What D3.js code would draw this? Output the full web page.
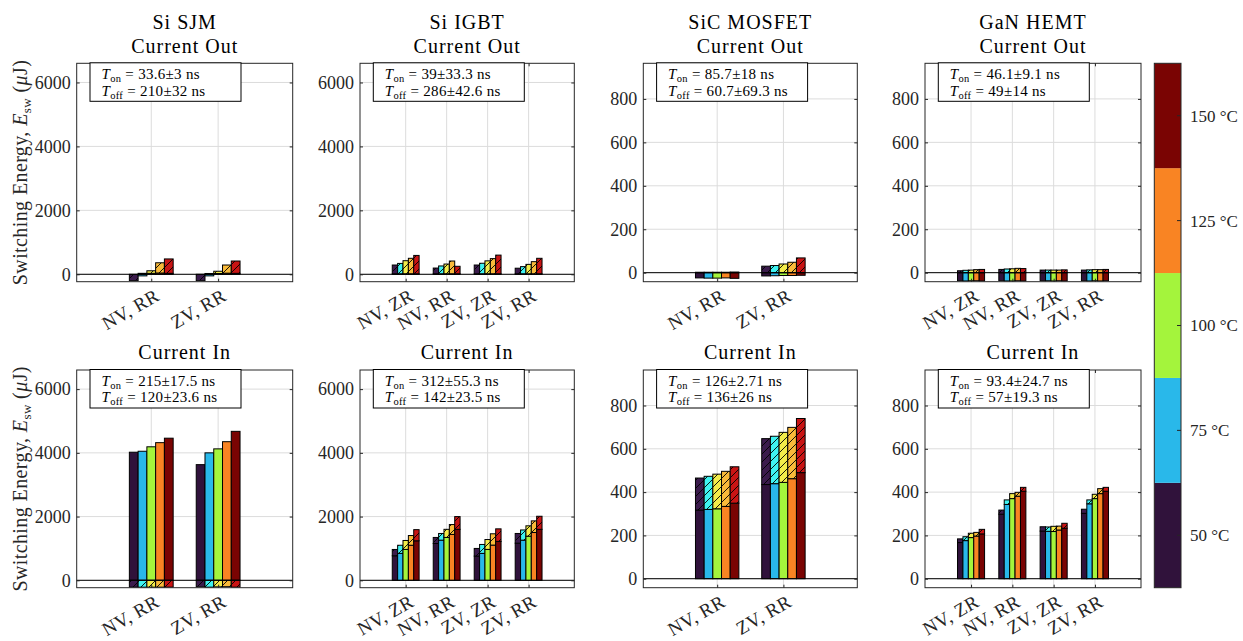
<!DOCTYPE html>
<html><head><meta charset="utf-8">
<script src="https://cdn.jsdelivr.net/npm/d3@7"></script>
<style>
html,body{margin:0;padding:0;background:#fff;}
svg{display:block;}
</style></head>
<body>
<svg id="chart" width="1243" height="641"></svg>
<script>
// ---------------- DATA ----------------
const temperatures = ["50 °C", "75 °C", "100 °C", "125 °C", "150 °C"];
const devices = ["Si SJM", "Si IGBT", "SiC MOSFET", "GaN HEMT"];
const cats2 = ["NV, RR", "ZV, RR"];
const cats4 = ["NV, ZR", "NV, RR", "ZV, ZR", "ZV, RR"];
const siTicks = [0, 2000, 4000, 6000];
const wbgTicks = [0, 200, 400, 600, 800];
const siDomain = [-232, 6600];
const wbgDomain = [-41.5, 964];

// solid (lower) segment and hatched (upper) segment, [group][temperature]
const sjmOutSolid = [[0, -50, 30, 40, 30], [0, -50, 25, 35, 30]];
const sjmOutHatch = [[-200, 30, 80, 320, 450], [-200, 25, 70, 255, 385]];
const sjmInSolid  = [[4020, 4050, 4190, 4320, 4460], [3630, 4000, 4125, 4350, 4675]];
const sjmInHatch  = [[-215, -215, -215, -215, -215], [-205, -215, -205, -200, -215]];

const igbtOutSolid = [[15, 15, 15, 15, 15], [15, 15, 15, 15, 15], [15, 15, 15, 15, 15], [15, 15, 15, 15, 15]];
const igbtOutHatch = [[275, 325, 410, 485, 575], [180, 245, 305, 400, 235], [275, 330, 405, 475, 585], [175, 225, 295, 380, 485]];
const igbtInSolid  = [[770, 845, 970, 1100, 1240], [1155, 1260, 1345, 1440, 1600], [760, 845, 970, 1105, 1220], [1165, 1260, 1385, 1500, 1600]];
const igbtInHatch  = [[198, 255, 280, 305, 350], [190, 210, 255, 310, 400], [240, 280, 310, 355, 395], [305, 320, 325, 365, 410]];

const sicOutSolid = [[-24, -25, -25, -24, -26], [-15, -14, -13, -13, -12]];
const sicOutHatch = [[2, 2, 2, 2, 3], [30, 33, 40, 48, 68]];
const sicInSolid  = [[317, 320, 323, 334, 349], [435, 439, 445, 462, 490]];
const sicInHatch  = [[148, 153, 160, 162, 168], [212, 219, 231, 237, 250]];

const ganOutSolid = [[-37, -38, -37, -37, -38], [-37, -38, -38, -37, -38], [-37, -37, -38, -37, -38], [-37, -38, -37, -38, -37]];
const ganOutHatch = [[9, 11, 12, 14, 15], [15, 17, 18, 20, 19], [12, 12, 12, 12, 13], [12, 13, 14, 14, 15]];
const ganInSolid  = [[167, 176, 190, 197, 207], [298, 343, 370, 381, 404], [220, 219, 218, 225, 233], [302, 346, 370, 393, 404]];
const ganInHatch  = [[17, 18, 20, 17, 21], [19, 21, 23, 18, 18], [20, 20, 24, 18, 23], [19, 18, 20, 23, 18]];

const tOnOut  = ["33.6±3", "39±33.3", "85.7±18", "46.1±9.1"];
const tOffOut = ["210±32", "286±42.6", "60.7±69.3", "49±14"];
const tOnIn   = ["215±17.5", "312±55.3", "126±2.71", "93.4±24.7"];
const tOffIn  = ["120±23.6", "142±23.5", "136±26", "57±19.3"];

// ---------------- STYLE ----------------
const solidColors = ["#30123b", "#29b8ea", "#a4f43c", "#f98423", "#7a0403"];
const hatchColors = ["#3b1b4c", "#3ff2f0", "#f3ec4a", "#f9ba3a", "#c91414"];
const FONT = '"Liberation Serif", "Times New Roman", serif';
const axColor = "#262626";

const colX = [[76.7, 292.7], [360, 574.3], [643.3, 857.3], [925, 1141]];
const rowY = [[63.3, 281.7], [370, 587.7]];

const panels = [
  {r:0,c:0,cats:cats2,solid:sjmOutSolid,hatch:sjmOutHatch,tOn:tOnOut[0],tOff:tOffOut[0],dom:siDomain,ticks:siTicks},
  {r:0,c:1,cats:cats4,solid:igbtOutSolid,hatch:igbtOutHatch,tOn:tOnOut[1],tOff:tOffOut[1],dom:siDomain,ticks:siTicks},
  {r:0,c:2,cats:cats2,solid:sicOutSolid,hatch:sicOutHatch,tOn:tOnOut[2],tOff:tOffOut[2],dom:wbgDomain,ticks:wbgTicks},
  {r:0,c:3,cats:cats4,solid:ganOutSolid,hatch:ganOutHatch,tOn:tOnOut[3],tOff:tOffOut[3],dom:wbgDomain,ticks:wbgTicks},
  {r:1,c:0,cats:cats2,solid:sjmInSolid,hatch:sjmInHatch,tOn:tOnIn[0],tOff:tOffIn[0],dom:siDomain,ticks:siTicks},
  {r:1,c:1,cats:cats4,solid:igbtInSolid,hatch:igbtInHatch,tOn:tOnIn[1],tOff:tOffIn[1],dom:siDomain,ticks:siTicks},
  {r:1,c:2,cats:cats2,solid:sicInSolid,hatch:sicInHatch,tOn:tOnIn[2],tOff:tOffIn[2],dom:wbgDomain,ticks:wbgTicks},
  {r:1,c:3,cats:cats4,solid:ganInSolid,hatch:ganInHatch,tOn:tOnIn[3],tOff:tOffIn[3],dom:wbgDomain,ticks:wbgTicks},
];

const svg = d3.select("#chart");
const defs = svg.append("defs");
hatchColors.forEach((col, i) => {
  const p = defs.append("pattern").attr("id", "hatch" + i)
    .attr("patternUnits", "userSpaceOnUse").attr("width", 8).attr("height", 8);
  p.append("rect").attr("width", 8).attr("height", 8).attr("fill", col);
  p.append("path").attr("d", "M-1,9 L9,-1 M-2,2 L2,-2 M6,10 L10,6")
    .attr("stroke", "#000").attr("stroke-width", 0.9);
});

const margin = 1.115, groupFrac = 0.655;

panels.forEach((P, pi) => {
  const [x0, x1] = colX[P.c], [y0, y1] = rowY[P.r];
  const n = P.cats.length;
  const x = d3.scaleLinear().domain([1 - margin, n + margin]).range([x0, x1]);
  const y = d3.scaleLinear().domain(P.dom).range([y1, y0]);
  const g = svg.append("g");
  const clipId = "clip" + pi;
  defs.append("clipPath").attr("id", clipId).append("rect")
    .attr("x", x0).attr("y", y0).attr("width", x1 - x0).attr("height", y1 - y0);

  // grid
  g.append("g").selectAll("line").data(P.ticks).join("line")
    .attr("x1", x0).attr("x2", x1).attr("y1", d => y(d)).attr("y2", d => y(d))
    .attr("stroke", "#dcdcdc").attr("stroke-width", 1);
  g.append("g").selectAll("line").data(d3.range(1, n + 1)).join("line")
    .attr("y1", y0).attr("y2", y1).attr("x1", d => x(d)).attr("x2", d => x(d))
    .attr("stroke", "#dcdcdc").attr("stroke-width", 1);

  // bars
  const bw = groupFrac / 5;
  const bars = g.append("g").attr("clip-path", `url(#${clipId})`);
  P.cats.forEach((cat, gi) => {
    for (let t = 0; t < 5; t++) {
      let pos = 0, neg = 0;
      const layers = [{v: P.solid[gi][t], fill: solidColors[t]}, {v: P.hatch[gi][t], fill: `url(#hatch${t})`}];
      const cx = gi + 1 + (t - 2) * bw;
      layers.forEach(L => {
        let a, b;
        if (L.v >= 0) { a = pos; b = pos + L.v; pos = b; }
        else { a = neg; b = neg + L.v; neg = b; }
        bars.append("rect")
          .attr("x", x(cx - bw / 2)).attr("width", x(cx + bw / 2) - x(cx - bw / 2))
          .attr("y", y(Math.max(a, b))).attr("height", Math.abs(y(a) - y(b)))
          .attr("fill", L.fill).attr("stroke", "#000").attr("stroke-width", 1);
      });
    }
  });
  // baseline
  g.append("line").attr("x1", x0).attr("x2", x1).attr("y1", y(0)).attr("y2", y(0))
    .attr("stroke", "#000").attr("stroke-width", 1);

  // axes box + ticks
  g.append("rect").attr("x", x0).attr("y", y0).attr("width", x1 - x0).attr("height", y1 - y0)
    .attr("fill", "none").attr("stroke", axColor).attr("stroke-width", 1);
  const yAxisL = d3.axisLeft(y).tickValues(P.ticks).tickSizeInner(-3).tickSizeOuter(0).tickPadding(6).tickFormat(d3.format("d"));
  const gyl = g.append("g").attr("transform", `translate(${x0},0)`).call(yAxisL);
  gyl.select(".domain").remove();
  gyl.selectAll("line").attr("stroke", axColor);
  gyl.selectAll("text").attr("font-family", FONT).attr("font-size", 18).attr("fill", axColor);
  const gyr = g.append("g").attr("transform", `translate(${x1},0)`)
    .call(d3.axisRight(y).tickValues(P.ticks).tickSizeInner(-3).tickSizeOuter(0).tickFormat(""));
  gyr.select(".domain").remove(); gyr.selectAll("line").attr("stroke", axColor);
  const gxb = g.append("g").attr("transform", `translate(0,${y1})`)
    .call(d3.axisBottom(x).tickValues(d3.range(1, n + 1)).tickSizeInner(-3).tickSizeOuter(0).tickFormat(""));
  gxb.select(".domain").remove(); gxb.selectAll("line").attr("stroke", axColor);
  const gxt = g.append("g").attr("transform", `translate(0,${y0})`)
    .call(d3.axisTop(x).tickValues(d3.range(1, n + 1)).tickSizeInner(-3).tickSizeOuter(0).tickFormat(""));
  gxt.select(".domain").remove(); gxt.selectAll("line").attr("stroke", axColor);

  // rotated x labels
  g.append("g").selectAll("text").data(P.cats).join("text")
    .attr("transform", (d, i) => `translate(${x(i + 1) + 6},${y1 + 12}) rotate(-30)`)
    .attr("text-anchor", "end").attr("dy", "0.35em")
    .attr("font-family", FONT).attr("font-size", 19).attr("letter-spacing", 0.4).attr("fill", axColor)
    .text(d => d);

  // titles
  const cxm = (x0 + x1) / 2;
  const titleText = (yy, s) => g.append("text").attr("x", cxm).attr("y", yy).attr("text-anchor", "middle")
      .attr("font-family", FONT).attr("font-size", 20).attr("letter-spacing", 1).attr("fill", "#000").text(s);
  if (P.r === 0) {
    titleText(y0 - 34, devices[P.c]);
    titleText(y0 - 10, "Current Out");
  } else {
    titleText(y0 - 11, "Current In");
  }

  // annotation box
  const bx = x0 + 13.3, by = y0 - 0.5;
  g.append("rect").attr("x", bx).attr("y", by).attr("width", 151).attr("height", 38.5)
    .attr("fill", "#fff").attr("stroke", "#000").attr("stroke-width", 1);
  [["on", P.tOn], ["off", P.tOff]].forEach((L, li) => {
    const t = g.append("text").attr("x", bx + 11.5).attr("y", by + 16 + li * 16.8)
      .attr("font-family", FONT).attr("font-size", 15).attr("letter-spacing", 0.3).attr("fill", "#000");
    t.append("tspan").attr("font-style", "italic").text("T");
    t.append("tspan").attr("font-size", 10.5).attr("dy", 3).text(L[0]);
    t.append("tspan").attr("dy", -3).text(" = " + L[1] + " ns");
  });
});

// y labels
rowY.forEach(([y0, y1]) => {
  const t = svg.append("text").attr("transform", `translate(20,${(y0 + y1) / 2}) rotate(-90)`)
    .attr("text-anchor", "middle").attr("dy", "0.35em")
    .attr("font-family", FONT).attr("font-size", 20).attr("letter-spacing", 0.4).attr("fill", axColor);
  t.append("tspan").text("Switching Energy, ");
  t.append("tspan").attr("font-style", "italic").text("E");
  t.append("tspan").attr("font-size", 13).attr("dy", 4).text("sw");
  t.append("tspan").attr("dy", -4).text(" (");
  t.append("tspan").attr("font-style", "italic").text("μ");
  t.append("tspan").text("J)");
});

// colorbar
const cbX0 = 1154.3, cbX1 = 1181, cbY0 = 63.3, cbY1 = 587.7;
const cb = d3.scaleBand().domain(d3.range(5)).range([cbY1, cbY0]).padding(0);
const cbg = svg.append("g");
cbg.selectAll("rect.seg").data(d3.range(5)).join("rect").attr("class", "seg")
  .attr("x", cbX0).attr("width", cbX1 - cbX0).attr("y", d => cb(d)).attr("height", cb.bandwidth())
  .attr("fill", d => solidColors[d]);
cbg.append("rect").attr("x", cbX0).attr("y", cbY0).attr("width", cbX1 - cbX0).attr("height", cbY1 - cbY0)
  .attr("fill", "none").attr("stroke", axColor).attr("stroke-width", 1);
cbg.selectAll("line.tk").data(d3.range(5)).join("line").attr("class", "tk")
  .attr("x1", cbX1 - 4).attr("x2", cbX1).attr("y1", d => cb(d) + cb.bandwidth() / 2).attr("y2", d => cb(d) + cb.bandwidth() / 2)
  .attr("stroke", axColor);
cbg.selectAll("text").data(temperatures).join("text")
  .attr("x", cbX1 + 9).attr("y", (d, i) => cb(i) + cb.bandwidth() / 2).attr("dy", "0.35em")
  .attr("font-family", FONT).attr("font-size", 17).attr("fill", axColor).text(d => d);
</script>
</body></html>
